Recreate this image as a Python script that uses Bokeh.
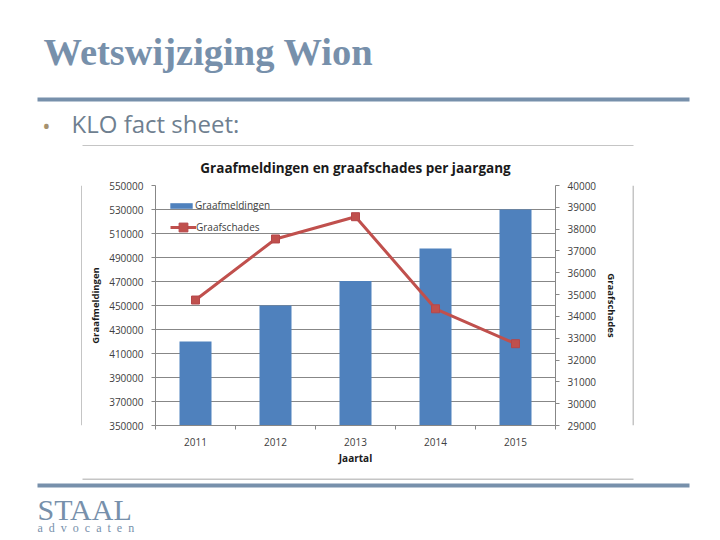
from bokeh.plotting import figure
from bokeh.layouts import column, row
from bokeh.models import (Range1d, LinearAxis, FixedTicker, NumeralTickFormatter, Grid,
                          Legend, LegendItem, Label, BoxAnnotation)
from bokeh.embed import file_html
from bokeh.resources import INLINE

# ---------------- data ----------------
years = ["2011", "2012", "2013", "2014", "2015"]
graafmeldingen = [420000, 450000, 470500, 497500, 530000]
graafschades = [34750, 37550, 38570, 34350, 32750]
left_ticks = [350000, 370000, 390000, 410000, 430000, 450000, 470000, 490000, 510000, 530000, 550000]
right_ticks = [29000, 30000, 31000, 32000, 33000, 34000, 35000, 36000, 37000, 38000, 39000, 40000]

slide_title = "Wetswijziging Wion"
bullet_text = "KLO fact sheet:"
chart_title = "Graafmeldingen en graafschades per jaargang"

# ---------------- styles ----------------
SLATE = "#7790ab"
GRID = "#878787"
BORDER = "#8c8c8c"
TXT = "#404040"
FONT = "Open Sans"

# page regions (page px): header 0-146, chart row 146-478, footer 478-540
PAGE_W, PAGE_H = 720, 540
TOP, BOT = 146, 478
CL, CR = 82, 632


def blank(w, h, x0, x1, y0, y1):
    f = figure(width=w, height=h, output_backend="svg", toolbar_location=None,
               x_range=Range1d(x0, x1), y_range=Range1d(y1, y0),
               x_axis_type=None, y_axis_type=None,
               min_border=0, min_border_left=0, min_border_right=0,
               min_border_top=0, min_border_bottom=0)
    f.outline_line_color = None
    f.background_fill_color = "white"
    f.border_fill_color = "white"
    return f


def box(f, l, r, t, b, color):
    f.add_layout(BoxAnnotation(left=l, right=r, top=t, bottom=b,
                               fill_color=color, fill_alpha=1, line_alpha=0))


def text(f, x, y, t, font, size, color, style="normal", align="left"):
    # y is the vertical middle of the text box
    f.add_layout(Label(x=x, y=y, text=t, text_font=font, text_font_size=size,
                       text_color=color, text_font_style=style,
                       text_align=align, text_baseline="middle"))


# ---------------- header ----------------
header = blank(PAGE_W, TOP, 0, PAGE_W, 0, TOP)
text(header, 43, 51, slide_title, "Liberation Serif", "38.5px", SLATE, style="bold")
box(header, 37, 689, 97, 101, SLATE)
text(header, 46, 124, "\u2022", "Open Sans", "22px", "#a6926f", align="center")
text(header, 71, 123, bullet_text, "Open Sans", "24px", "#6f7f90")
box(header, CL, CR + 1, TOP - 1, TOP, BORDER)

# ---------------- side spacers ----------------
left_sp = blank(CL, BOT - TOP, 0, CL, TOP, BOT)
box(left_sp, CL - 1, CL, TOP, BOT, BORDER)
right_sp = blank(PAGE_W - CR, BOT - TOP, CR, PAGE_W, TOP, BOT)
box(right_sp, CR, CR + 1, TOP, BOT, BORDER)

# ---------------- footer ----------------
footer = blank(PAGE_W, PAGE_H - BOT, 0, PAGE_W, BOT, PAGE_H)
box(footer, CL, CR + 1, BOT, BOT + 1, BORDER)
box(footer, 37, 689, 483, 487, SLATE)
text(footer, 37, 509, "STAAL", "Liberation Serif", "30px", SLATE)
text(footer, 37, 527, "a\u2002d\u2002v\u2002o\u2002c\u2002a\u2002t\u2002e\u2002n",
     "Liberation Serif", "12px", SLATE)

# ---------------- chart ----------------
CW, CH = CR - CL, BOT - TOP          # 550 x 332
FL, FT = 155 - CL, 185 - TOP         # frame: page x 155-555, y 185-425
FW, FH = 400, 240

xc = [i + 1 for i in range(len(years))]
bounds = [i + 0.5 for i in range(len(years) + 1)]

p = figure(width=CW, height=CH, output_backend="svg", toolbar_location=None,
           x_range=Range1d(0.5, len(years) + 0.5),
           y_range=Range1d(left_ticks[0], left_ticks[-1]),
           min_border_left=FL, min_border_right=CW - FL - FW,
           min_border_top=FT, min_border_bottom=CH - FT - FH,
           x_axis_type=None, y_axis_type=None)
p.outline_line_color = None
p.background_fill_color = "white"
p.border_fill_color = "white"
p.extra_y_ranges = {"schade": Range1d(right_ticks[0], right_ticks[-1])}

p.title.text = chart_title
p.title.align = "center"
p.title.text_font = FONT
p.title.text_font_size = "13.5px"
p.title.text_font_style = "bold"
p.title.text_color = "#1a1a1a"
p.title.standoff = 17


def style_axis(ax):
    ax.axis_line_color = GRID
    ax.major_tick_line_color = GRID
    ax.minor_tick_line_color = GRID
    ax.major_label_text_color = TXT
    ax.major_label_text_font = FONT
    ax.major_label_text_font_size = "10px"
    ax.axis_label_text_font = FONT
    ax.axis_label_text_font_style = "bold"
    ax.axis_label_text_font_size = "9.5px"
    ax.axis_label_text_color = "#1a1a1a"


yl = LinearAxis(ticker=FixedTicker(ticks=left_ticks), formatter=NumeralTickFormatter(format="0"),
                axis_label="Graafmeldingen")
style_axis(yl)
yl.major_tick_in = 0
yl.major_tick_out = 4
yl.minor_tick_in = 0
yl.minor_tick_out = 0
yl.major_label_standoff = 8
yl.axis_label_standoff = 4
p.add_layout(yl, "left")

yr = LinearAxis(y_range_name="schade", ticker=FixedTicker(ticks=right_ticks),
                formatter=NumeralTickFormatter(format="0"), axis_label="Graafschades")
style_axis(yr)
yr.major_tick_in = 0
yr.major_tick_out = 4
yr.minor_tick_in = 0
yr.minor_tick_out = 0
yr.major_label_standoff = 8
yr.axis_label_standoff = 6
p.add_layout(yr, "right")

xa = LinearAxis(ticker=FixedTicker(ticks=xc, minor_ticks=bounds),
                major_label_overrides={x: y for x, y in zip(xc, years)},
                axis_label="Jaartal")
style_axis(xa)
xa.major_tick_in = 0
xa.major_tick_out = 0
xa.minor_tick_in = 0
xa.minor_tick_out = 4
xa.major_label_standoff = 8
xa.axis_label_standoff = 2
xa.axis_label_text_font_size = "10px"
p.add_layout(xa, "below")

g = Grid(dimension=1, ticker=FixedTicker(ticks=left_ticks[1:-1]))
g.grid_line_color = GRID
p.add_layout(g)

bars = p.vbar(x=xc, top=graafmeldingen, bottom=left_ticks[0], width=0.4,
              fill_color="#4f81bd", line_color=None)
line_r = p.line(xc, graafschades, y_range_name="schade", line_color="#c0504d", line_width=3)
pts = p.scatter(xc, graafschades, y_range_name="schade", marker="square", size=8,
                fill_color="#c0504d", line_color="#b5474a")


def make_legend(item, x, y, gw, gh, lh):
    lg = Legend(items=[item], location=(x, y), padding=0, margin=0, spacing=0,
                glyph_width=gw, glyph_height=gh, label_height=lh, label_standoff=0,
                label_text_font=FONT, label_text_font_size="10px", label_text_color=TXT,
                background_fill_alpha=0, border_line_color=None)
    p.add_layout(lg)


make_legend(LegendItem(label="Graafmeldingen", renderers=[bars]), 12, 213, 28, 7, 14)
make_legend(LegendItem(label="Graafschades", renderers=[line_r, pts]), 15, 187, 26, 22, 22)

layout = column(header, row(left_sp, p, right_sp), footer)

open("out.html", "w").write(file_html(layout, INLINE))
